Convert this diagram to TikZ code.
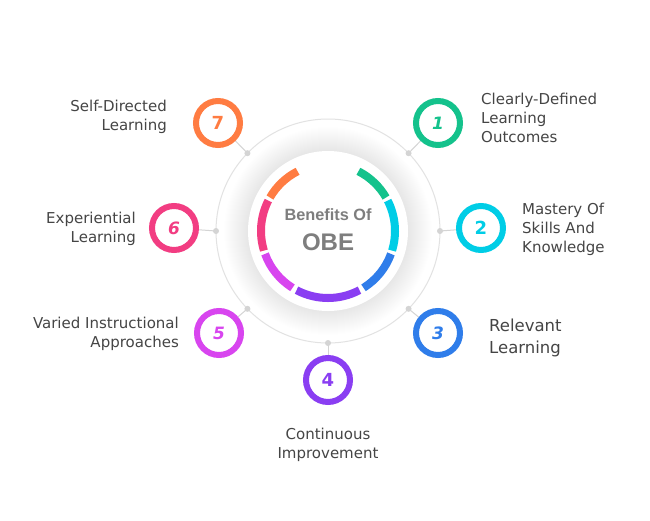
\documentclass[tikz,border=0pt]{standalone}
\usepackage{fontspec}
\setmainfont{DejaVu Sans}
\newfontfamily\hfont{Liberation Sans}
\usetikzlibrary{calc,backgrounds}
\definecolor{cA}{HTML}{14C28C}
\definecolor{cB}{HTML}{00CDE6}
\definecolor{cC}{HTML}{2F7DEA}
\definecolor{cD}{HTML}{8A3EF2}
\definecolor{cE}{HTML}{D845EF}
\definecolor{cF}{HTML}{F23D82}
\definecolor{cG}{HTML}{FF7C42}
\definecolor{lbltext}{HTML}{454545}
\definecolor{ctrtext}{HTML}{7E7E7E}
\definecolor{ringgray}{HTML}{E2E2E2}
\definecolor{dotgray}{HTML}{D4D4D4}
\tikzset{
  seg/.style={line width=8pt},
  numcirc/.style={circle, minimum size=44pt, inner sep=0pt, line width=6pt, fill=white, draw=#1, text=#1, font=\fontsize{17}{17}\selectfont\bfseries\itshape},
  numup/.style={numcirc=#1, font=\fontsize{18}{18}\selectfont\bfseries},
  lbl/.style={inner sep=0pt, text=lbltext, font=\fontsize{15}{18}\selectfont},
  lblbig/.style={inner sep=0pt, text=lbltext, font=\fontsize{16.5}{20}\selectfont},
  conn/.style={draw=dotgray, line width=1pt},
  dotst/.style={fill=dotgray}
}
\begin{document}
\begin{tikzpicture}[x=1pt,y=-1pt]
\useasboundingbox (0,0) rectangle (650,520);
\coordinate (c) at (328,231);
% soft shadow
\foreach \r in {104,103,...,81} \fill[black,opacity=0.0042] (c) circle[radius=\r];
% outer thin circle
\draw[ringgray, line width=1pt] (c) circle[radius=112];
% white disk
\fill[white] (c) circle[radius=80];
% coloured ring segments (screen angle theta -> -theta)
\draw[seg, cA] ($(c)+(-30:67)$) arc[start angle=-30, end angle=-63, radius=67];
\draw[seg, cB] ($(c)+(17:67)$) arc[start angle=17, end angle=-27, radius=67];
\draw[seg, cC] ($(c)+(58:67)$) arc[start angle=58, end angle=20, radius=67];
\draw[seg, cD] ($(c)+(118:67)$) arc[start angle=118, end angle=62, radius=67];
\draw[seg, cE] ($(c)+(160:67)$) arc[start angle=160, end angle=122, radius=67];
\draw[seg, cF] ($(c)+(207:67)$) arc[start angle=207, end angle=163, radius=67];
\draw[seg, cG] ($(c)+(210:67)$) arc[start angle=210, end angle=243, radius=67];
% centre text
\node[inner sep=0pt, anchor=base, text=ctrtext, font=\hfont\bfseries\fontsize{16.3}{16}\selectfont] (t1) at (328,220) {Benefits Of};
\node[inner sep=0pt, anchor=base, text=ctrtext, font=\hfont\bfseries\fontsize{24}{24}\selectfont] (t2) at (328,250) {OBE};
% dots on the outer circle
\coordinate (d1) at ($(c)+(-44:112)$);
\coordinate (d2) at ($(c)+(0:112)$);
\coordinate (d3) at ($(c)+(44:112)$);
\coordinate (d4) at ($(c)+(90:112)$);
\coordinate (d5) at ($(c)+(136:112)$);
\coordinate (d6) at ($(c)+(180:112)$);
\coordinate (d7) at ($(c)+(224:112)$);
% number circles
\node[numcirc=cA] (n1) at (438,123) {1};
\node[numup=cB] (n2) at (481,228) {2};
\node[numcirc=cC] (n3) at (438,333) {3};
\node[numup=cD] (n4) at (328,380) {4};
\node[numcirc=cE] (n5) at (219,333) {5};
\node[numcirc=cF] (n6) at (174,228) {6};
\node[numup=cG] (n7) at (218,123) {7};
\foreach \i in {1,...,7} \fill[dotst] (d\i) circle[radius=3];
% connectors and page background behind everything
\begin{scope}[on background layer]
\fill[white] (0,0) rectangle (650,520);
\foreach \i in {1,...,7} \draw[conn] (d\i) -- (n\i);
\end{scope}
% labels
\node[lbl, anchor=base west] (l1a) at (481,104) {Clearly-Defined};
\node[lbl, anchor=base west] (l1b) at (481,123) {Learning};
\node[lbl, anchor=base west] (l1c) at (481,142) {Outcomes};
\node[lbl, anchor=base west] (l2a) at (522,214) {Mastery Of};
\node[lbl, anchor=base west] (l2b) at (522,233) {Skills And};
\node[lbl, anchor=base west] (l2c) at (522,252) {Knowledge};
\node[lblbig, anchor=base west] (l3a) at (489,331) {Relevant};
\node[lblbig, anchor=base west] (l3b) at (489,353) {Learning};
\node[lbl, anchor=base] (l4a) at (328,439) {Continuous};
\node[lbl, anchor=base] (l4b) at (328,458) {Improvement};
\node[lbl, anchor=base east] (l5a) at (179,328) {Varied Instructional};
\node[lbl, anchor=base east] (l5b) at (179,347) {Approaches};
\node[lbl, anchor=base east] (l6a) at (136,223) {Experiential};
\node[lbl, anchor=base east] (l6b) at (136,242) {Learning};
\node[lbl, anchor=base east] (l7a) at (167,111) {Self-Directed};
\node[lbl, anchor=base east] (l7b) at (167,130) {Learning};
\end{tikzpicture}
\end{document}
